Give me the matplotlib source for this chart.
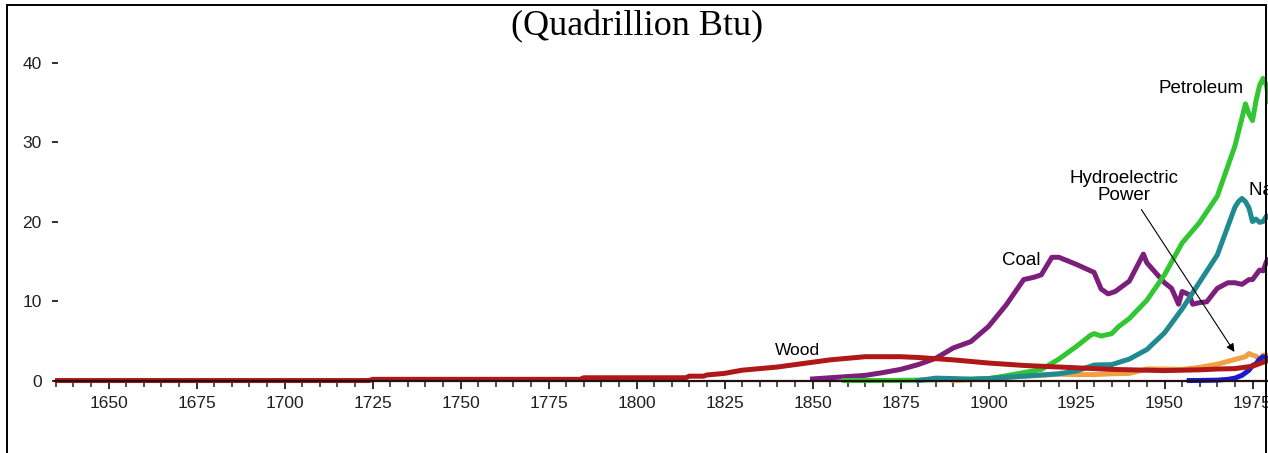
import matplotlib
matplotlib.use('Agg')
import matplotlib.pyplot as plt
from matplotlib.patches import Rectangle
from matplotlib.ticker import MultipleLocator

plt.rcParams['font.family'] = ['Liberation Sans', 'DejaVu Sans']

# US energy consumption by source (quadrillion Btu)
wood_years = [1635, 1724, 1725, 1784, 1785, 1814, 1815, 1819, 1820, 1825, 1830, 1835,
              1840, 1845, 1850, 1855, 1860, 1865, 1870, 1875, 1880, 1885, 1890, 1895,
              1900, 1905, 1910, 1915, 1920, 1925, 1930, 1935, 1940, 1945, 1950, 1955,
              1960, 1965, 1970, 1975, 1978, 1980]
wood_vals = [0.0, 0.0, 0.15, 0.15, 0.35, 0.35, 0.55, 0.55, 0.7, 0.9, 1.3, 1.5,
             1.7, 2.0, 2.3, 2.6, 2.8, 3.0, 3.0, 3.0, 2.9, 2.75, 2.6, 2.4,
             2.2, 2.05, 1.9, 1.8, 1.7, 1.6, 1.5, 1.4, 1.35, 1.3, 1.25, 1.3,
             1.35, 1.45, 1.5, 1.8, 2.3, 2.6]

coal_years = [1850, 1855, 1860, 1865, 1870, 1875, 1880, 1885, 1890, 1895, 1900, 1905,
              1910, 1913, 1915, 1918, 1920, 1925, 1930, 1932, 1934, 1936, 1940, 1944,
              1945, 1947, 1950, 1952, 1954, 1955, 1957, 1958, 1960, 1962, 1965, 1968,
              1970, 1972, 1974, 1975, 1977, 1978, 1979, 1980]
coal_vals = [0.2, 0.35, 0.5, 0.65, 1.0, 1.4, 2.0, 2.8, 4.1, 4.9, 6.8, 9.5,
             12.7, 13.0, 13.3, 15.5, 15.5, 14.6, 13.6, 11.5, 10.9, 11.2, 12.5, 15.9,
             14.8, 13.8, 12.3, 11.6, 9.6, 11.2, 10.8, 9.6, 9.8, 9.9, 11.6, 12.3,
             12.3, 12.1, 12.7, 12.7, 13.9, 13.8, 15.0, 15.4]

petroleum_years = [1859, 1870, 1880, 1890, 1900, 1905, 1910, 1915, 1917, 1920, 1925,
                   1929, 1930, 1932, 1935, 1937, 1940, 1945, 1950, 1955, 1960, 1965,
                   1970, 1972, 1973, 1974, 1975, 1976, 1977, 1978, 1979, 1980]
petroleum_vals = [0.0, 0.01, 0.05, 0.15, 0.23, 0.6, 1.0, 1.4, 1.9, 2.7, 4.3,
                  5.7, 5.9, 5.6, 5.9, 6.8, 7.8, 10.1, 13.3, 17.3, 19.9, 23.2,
                  29.5, 33.0, 34.8, 33.5, 32.7, 35.2, 37.1, 38.0, 37.1, 34.2]

gas_years = [1880, 1885, 1890, 1895, 1900, 1905, 1910, 1915, 1920, 1925, 1930, 1935,
             1940, 1945, 1950, 1955, 1960, 1965, 1970, 1971, 1972, 1973, 1974, 1975,
             1976, 1977, 1978, 1979, 1980]
gas_vals = [0.0, 0.3, 0.25, 0.15, 0.25, 0.4, 0.55, 0.7, 0.85, 1.2, 1.95, 2.0,
            2.7, 3.9, 6.0, 9.0, 12.4, 15.8, 21.8, 22.5, 22.9, 22.5, 21.7, 20.0,
            20.3, 19.9, 20.0, 20.7, 20.4]

hydro_years = [1890, 1895, 1900, 1905, 1910, 1915, 1920, 1925, 1930, 1935, 1940, 1945,
               1950, 1955, 1960, 1965, 1970, 1973, 1974, 1975, 1976, 1977, 1978, 1979,
               1980]
hydro_vals = [0.02, 0.1, 0.25, 0.4, 0.55, 0.65, 0.8, 0.75, 0.75, 0.85, 0.9, 1.45,
              1.45, 1.4, 1.65, 2.05, 2.65, 3.0, 3.4, 3.2, 3.05, 2.6, 3.2, 3.2,
              3.1]

nuclear_years = [1957, 1960, 1965, 1968, 1970, 1972, 1974, 1975, 1976, 1977, 1978, 1979, 1980]
nuclear_vals = [0.0, 0.01, 0.05, 0.15, 0.3, 0.65, 1.3, 1.9, 2.1, 2.7, 3.0, 2.8, 2.7]

y_ticks = [0, 10, 20, 30, 40]

W, H = 1268, 453
fig = plt.figure(figsize=(W / 100, H / 100), dpi=100)
ax = fig.add_axes([55 / W, (H - 386.9) / H, (W - 55) / W, (386.9 - 46.6) / H])

lw = 3.6
ax.plot(hydro_years, hydro_vals, color='#f0a040', lw=lw, zorder=2)
ax.plot(nuclear_years, nuclear_vals, color='#1a1ad0', lw=lw, zorder=2)
ax.plot(coal_years, coal_vals, color='#7b1f7b', lw=lw, zorder=2.1)
ax.plot(petroleum_years, petroleum_vals, color='#33c633', lw=lw, zorder=2.2)
ax.plot(gas_years, gas_vals, color='#1f8a90', lw=lw, zorder=2.3)
ax.plot(wood_years, wood_vals, color='#b01818', lw=lw, zorder=2.4)

ax.set_xlim(1634.8, 1979.4)
ax.set_ylim(-0.8, 42.0)

for s in ['top', 'right', 'left']:
    ax.spines[s].set_visible(False)
ax.spines['bottom'].set_position(('data', 0))
ax.spines['bottom'].set_linewidth(1.6)
ax.spines['bottom'].set_color('#201010')
ax.spines['bottom'].set_zorder(3)

ax.xaxis.set_major_locator(MultipleLocator(25))
ax.xaxis.set_minor_locator(MultipleLocator(5))
ax.tick_params(axis='x', which='major', direction='out', length=6, width=1.3,
               pad=5, labelsize=12.5, colors='#202020')
ax.tick_params(axis='x', which='minor', direction='out', length=4, width=1.1,
               colors='#202020')
ax.set_yticks(y_ticks)
ax.tick_params(axis='y', direction='inout', length=5, width=1.3, pad=7,
               labelsize=12.5, colors='#202020')

# series labels
fs = 13.5
ax.text(1845.6, 3.2, 'Wood', ha='center', va='baseline', fontsize=fs - 1)
ax.text(1909.2, 14.5, 'Coal', ha='center', va='baseline', fontsize=fs)
ax.text(1960.4, 36.2, 'Petroleum', ha='center', va='baseline', fontsize=fs)
ax.text(1938.5, 24.8, 'Hydroelectric', ha='center', va='baseline', fontsize=fs)
ax.text(1938.5, 22.7, 'Power', ha='center', va='baseline', fontsize=fs)
ax.text(1974.1, 23.3, 'Natural Gas', ha='left', va='baseline', fontsize=fs, clip_on=False)
ax.annotate('', xy=(1970.3, 3.3), xytext=(1943.0, 21.8),
            arrowprops=dict(arrowstyle='-|>', color='black', lw=0.8, mutation_scale=12))

fig.text(637 / W, 1 - 27 / H, '(Quadrillion Btu)', ha='center', va='center',
         family=['Liberation Serif'], fontsize=26)

fig.add_artist(Rectangle((7 / W, -0.02), (1266 - 7) / W, 1 - 5 / H + 0.02,
                         transform=fig.transFigure, fill=False, lw=1.4, ec='black'))

fig.savefig('out.png', dpi=100)
